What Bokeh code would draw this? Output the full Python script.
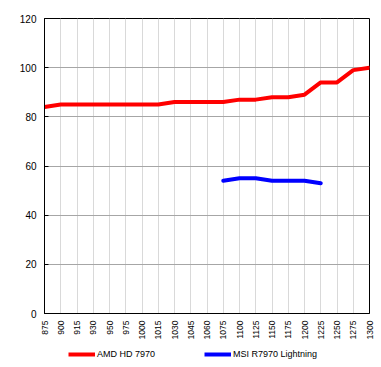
from bokeh.plotting import figure
from bokeh.models import FixedTicker, Range1d, Legend, LegendItem
from bokeh.layouts import column
from bokeh.embed import file_html
from bokeh.resources import INLINE
import math

clocks = ["875", "900", "915", "930", "950", "975", "1000", "1015", "1030", "1045",
          "1060", "1075", "1100", "1125", "1150", "1175", "1200", "1225", "1250",
          "1275", "1300"]
amd_hd7970 = [84, 85, 85, 85, 85, 85, 85, 85, 86, 86, 86, 86, 87, 87, 88, 88, 89,
              94, 94, 99, 100]
msi_clocks = ["1075", "1100", "1125", "1150", "1175", "1200", "1225"]
msi_r7970 = [54, 55, 55, 54, 54, 54, 53]
y_ticks = [0, 20, 40, 60, 80, 100, 120]
series_names = ["AMD HD 7970", "MSI R7970 Lightning"]
series_colors = ["#FF0000", "#0000FF"]

idx = {c: i for i, c in enumerate(clocks)}
x_amd = [idx[c] for c in clocks]
x_msi = [idx[c] for c in msi_clocks]
series_x = [x_amd, x_msi]
series_y = [amd_hd7970, msi_r7970]

p = figure(frame_width=325, frame_height=295, output_backend="svg", toolbar_location=None,
           x_range=Range1d(0, len(clocks) - 1), y_range=Range1d(0, 120),
           min_border_left=44, min_border_right=12, min_border_top=18,
           min_border_bottom=27)
p.background_fill_color = "white"
p.border_fill_color = "white"
p.outline_line_color = "black"
p.outline_line_width = 1

for xs, ys, col in zip(series_x, series_y, series_colors):
    p.line(xs, ys, line_color=col, line_width=4, line_join="round", line_cap="round")

p.xaxis.ticker = FixedTicker(ticks=list(range(len(clocks))))
p.xaxis.major_label_overrides = {i: c for i, c in enumerate(clocks)}
p.xaxis.major_label_orientation = math.pi / 2
p.xaxis.major_label_text_font = "Liberation Sans"
p.xaxis.major_label_text_font_size = "8.5px"
p.xaxis.major_label_text_color = "black"
p.xaxis.major_tick_in = 0
p.xaxis.major_tick_out = 0
p.xaxis.minor_tick_line_color = None
p.xaxis.major_label_standoff = 7
p.xaxis.axis_line_color = "black"

p.yaxis.ticker = FixedTicker(ticks=y_ticks)
p.yaxis.major_label_text_font = "Liberation Sans"
p.yaxis.major_label_text_font_size = "10px"
p.yaxis.major_label_text_color = "black"
p.yaxis.major_tick_in = 4
p.yaxis.major_tick_out = 0
p.yaxis.minor_tick_line_color = None
p.yaxis.major_label_standoff = 8
p.yaxis.axis_line_color = "black"

p.xgrid.grid_line_color = "#D9D9D9"
p.xgrid.grid_line_width = 1
p.ygrid.grid_line_color = "#A6A6A6"
p.ygrid.grid_line_width = 1

# legend strip below the chart (series drawn out of view; only the legend shows)
lg = figure(frame_width=381, frame_height=27, output_backend="svg", toolbar_location=None,
            x_range=Range1d(0, len(clocks) - 1), y_range=Range1d(0, 1),
            min_border=0, min_border_left=0, min_border_right=0,
            min_border_top=0, min_border_bottom=0,
            x_axis_location=None, y_axis_location=None)
lg.outline_line_color = None
lg.grid.visible = False
lg.background_fill_color = "white"
lg.border_fill_color = "white"
items = []
for name, xs, ys, col in zip(series_names, series_x, series_y, series_colors):
    r = lg.line(xs, ys, line_color=col, line_width=4)
    items.append(LegendItem(label=name, renderers=[r]))
legend = Legend(items=items, orientation="horizontal", location=(68, 9))
legend.label_text_font = "Liberation Sans"
legend.label_text_font_size = "9px"
legend.label_text_color = "black"
legend.label_height = 12
legend.glyph_width = 27
legend.glyph_height = 12
legend.label_standoff = 2
legend.spacing = 49
legend.padding = 2
legend.margin = 0
legend.border_line_color = None
legend.background_fill_alpha = 0
lg.add_layout(legend, "center")

layout = column(p, lg, spacing=0)
open("out.html", "w").write(file_html(layout, INLINE))
